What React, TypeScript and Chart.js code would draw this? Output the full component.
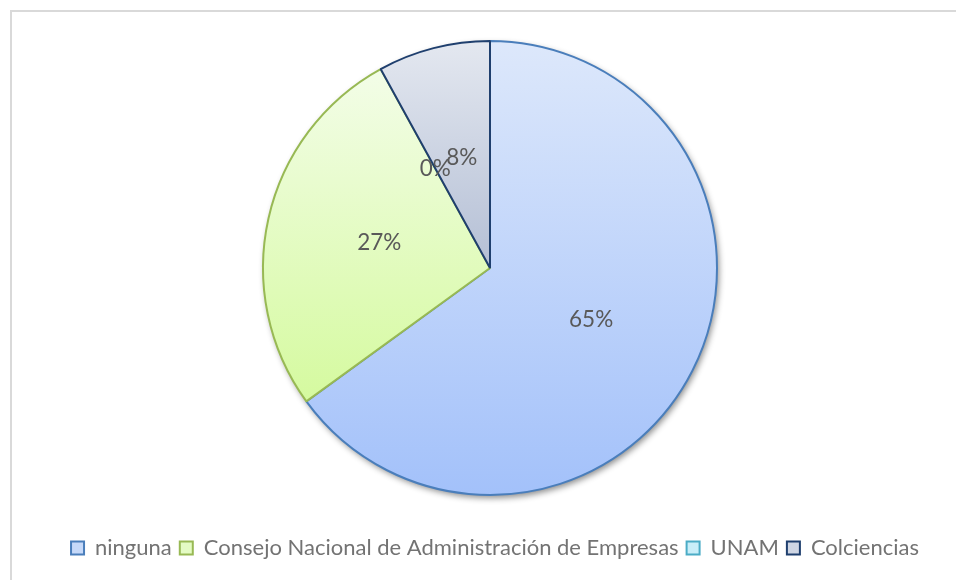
import React, { useEffect, useRef } from "react";
import { Chart, registerables } from "chart.js";

Chart.register(...registerables);

const categories = [
  "ninguna",
  "Consejo Nacional de Administración de Empresas",
  "UNAM",
  "Colciencias",
];
const values = [65, 27, 0, 8];
const valueLabels = ["65%", "27%", "0%", "8%"];

const gradTop = ["#dde8fb", "#f3fde8", "#dff5fb", "#e4e8f0"];
const gradBottom = ["#a3c1fa", "#d5fa9f", "#a6e3f4", "#b4bfd5"];
const borderColors = ["#4a7ebb", "#98b954", "#4bacc6", "#1f3f6e"];
const legendFills = ["#c6d9f9", "#e4fbc4", "#c8eef9", "#cfd6e4"];

const FONT = "Lato, 'Open Sans', sans-serif";

function sliceGradient(ctx: any) {
  const chart = ctx.chart;
  const i = ctx.dataIndex;
  const area = chart.chartArea;
  if (!area || i === undefined) return gradTop[i ?? 0];
  const total = values.reduce((a, b) => a + b, 0);
  let cum = 0;
  for (let k = 0; k < i; k++) cum += values[k];
  const a0 = -Math.PI / 2 + (2 * Math.PI * cum) / total;
  const a1 = -Math.PI / 2 + (2 * Math.PI * (cum + values[i])) / total;
  const cx = (area.left + area.right) / 2;
  const cy = (area.top + area.bottom) / 2;
  const r = Math.min(area.width, area.height) / 2;
  let ymin = cy;
  let ymax = cy;
  const steps = 60;
  for (let s = 0; s <= steps; s++) {
    const a = a0 + ((a1 - a0) * s) / steps;
    const y = cy + r * Math.sin(a);
    ymin = Math.min(ymin, y);
    ymax = Math.max(ymax, y);
  }
  if (ymax - ymin < 1) ymax = ymin + 1;
  const g = chart.ctx.createLinearGradient(0, ymin, 0, ymax);
  g.addColorStop(0, gradTop[i]);
  g.addColorStop(1, gradBottom[i]);
  return g;
}

const framePlugin = {
  id: "frame",
  beforeDraw(chart: any) {
    const c = chart.ctx;
    c.save();
    c.fillStyle = "#ffffff";
    c.fillRect(0, 0, chart.width, chart.height);
    c.fillStyle = "#d9d9d9";
    c.fillRect(10, 10, chart.width - 10, 2);
    c.fillRect(10, 10, 2, chart.height - 10);
    c.restore();
  },
};

const legendShiftPlugin = {
  id: "legendShift",
  afterLayout(chart: any) {
    if (chart.legend) {
      chart.legend.left += 5;
      chart.legend.right += 5;
    }
  },
};

const shadowPlugin = {
  id: "pieShadow",
  beforeDatasetsDraw(chart: any) {
    const meta = chart.getDatasetMeta(0);
    const arc = meta.data[0];
    if (!arc) return;
    const c = chart.ctx;
    c.save();
    c.shadowColor = "rgba(0,0,0,0.45)";
    c.shadowBlur = 6;
    c.shadowOffsetX = 2;
    c.shadowOffsetY = 3;
    c.fillStyle = "#ffffff";
    c.beginPath();
    c.arc(arc.x, arc.y, arc.outerRadius, 0, Math.PI * 2);
    c.fill();
    c.restore();
  },
};

const labelPlugin = {
  id: "sliceLabels",
  afterDatasetsDraw(chart: any) {
    const meta = chart.getDatasetMeta(0);
    const c = chart.ctx;
    c.save();
    c.font = `22.5px ${FONT}`;
    c.fillStyle = "#595959";
    c.textAlign = "center";
    c.textBaseline = "middle";
    meta.data.forEach((arc: any, i: number) => {
      const mid = (arc.startAngle + arc.endAngle) / 2;
      const r = arc.outerRadius * 0.5;
      const x = arc.x + Math.cos(mid) * r;
      const y = arc.y + Math.sin(mid) * r;
      c.fillText(valueLabels[i], x, y);
    });
    c.restore();
  },
};

export default function App() {
  const ref = useRef<HTMLCanvasElement | null>(null);
  useEffect(() => {
    if (!ref.current) return;
    const chart = new Chart(ref.current, {
      type: "pie",
      data: {
        labels: categories,
        datasets: [
          {
            data: values,
            backgroundColor: sliceGradient as any,
            borderColor: borderColors,
            borderWidth: 2,
          },
        ],
      },
      options: {
        responsive: false,
        devicePixelRatio: 1,
        animation: false,
        layout: { padding: { top: 40, left: 24, right: 0, bottom: 11 } },
        plugins: {
          tooltip: { enabled: false },
          legend: {
            position: "bottom",
            title: {
              display: true,
              text: "",
              font: { size: 1 },
              padding: { top: 31.8, bottom: 0 },
            },
            labels: {
              font: { family: FONT, size: 22 },
              color: "#737373",
              boxWidth: 13,
              boxHeight: 13,
              padding: 8,
              generateLabels: () =>
                categories.map((t, i) => ({
                  text: t,
                  fillStyle: legendFills[i],
                  strokeStyle: borderColors[i],
                  lineWidth: 2,
                  hidden: false,
                  index: i,
                  fontColor: "#737373",
                })),
            },
          },
        },
      },
      plugins: [framePlugin, legendShiftPlugin, shadowPlugin, labelPlugin],
    });
    return () => chart.destroy();
  }, []);
  return (
    <div
      style={{
        position: "fixed",
        left: 0,
        top: 0,
        width: 956,
        height: 580,
        background: "#fff",
      }}
    >
      <canvas ref={ref} width={956} height={580} style={{ display: "block" }} />
    </div>
  );
}
